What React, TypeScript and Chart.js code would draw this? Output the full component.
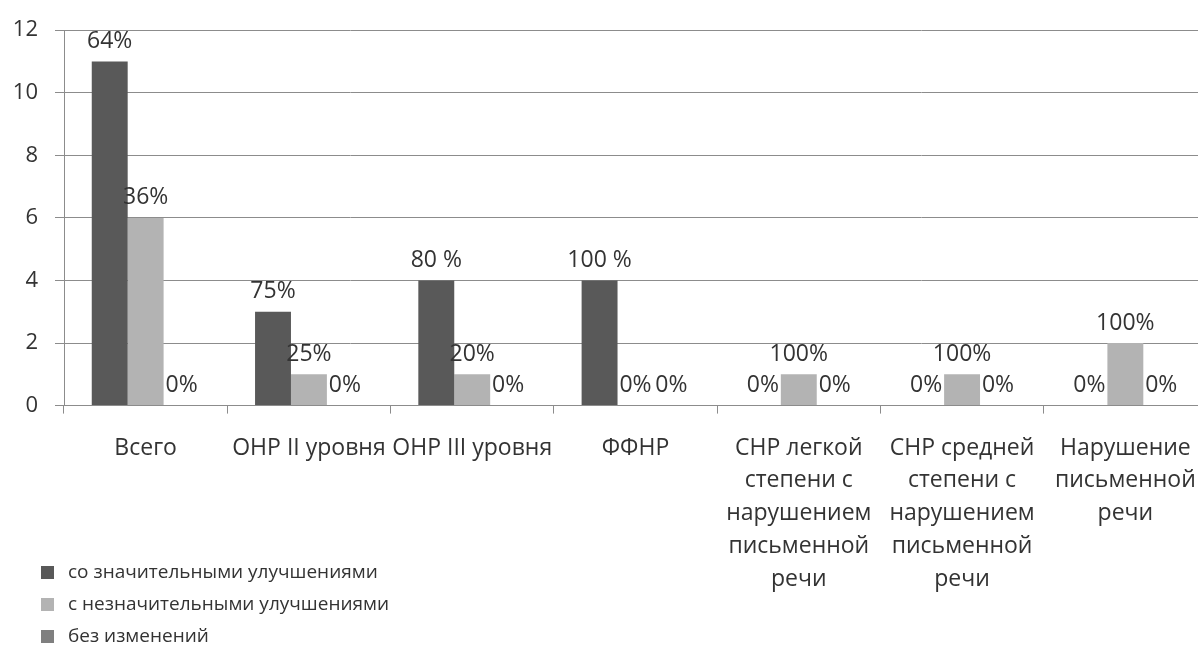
import React, { useEffect, useRef } from "react";
import { Chart, registerables } from "chart.js";

Chart.register(...registerables);

const categories: (string | string[])[] = [
  "Всего",
  "ОНР II уровня",
  "ОНР III уровня",
  "ФФНР",
  ["СНР легкой", "степени с", "нарушением", "письменной", "речи"],
  ["СНР средней", "степени с", "нарушением", "письменной", "речи"],
  ["Нарушение", "письменной", "речи"],
];

const seriesNames = [
  "со значительными улучшениями",
  "с незначительными улучшениями",
  "без изменений",
];

const significant = [11, 3, 4, 4, 0, 0, 0];
const minor = [6, 1, 1, 0, 1, 1, 2];
const noChange = [0, 0, 0, 0, 0, 0, 0];

const significantLabels = ["64%", "75%", "80 %", "100 %", "0%", "0%", "0%"];
const minorLabels = ["36%", "25%", "20%", "0%", "100%", "100%", "100%"];
const noChangeLabels = ["0%", "0%", "0%", "0%", "0%", "0%", "0%"];

const yTicks = [0, 2, 4, 6, 8, 10, 12];

const FONT = "'Open Sans', 'DejaVu Sans', sans-serif";
const TEXT = "#333333";

const dataLabelsPlugin = {
  id: "dataLabels",
  afterDatasetsDraw(chart: any) {
    const ctx = chart.ctx;
    const all = [significantLabels, minorLabels, noChangeLabels];
    ctx.save();
    ctx.font = `23px ${FONT}`;
    ctx.fillStyle = TEXT;
    ctx.textAlign = "center";
    ctx.textBaseline = "middle";
    chart.data.datasets.forEach((_ds: any, di: number) => {
      const meta = chart.getDatasetMeta(di);
      meta.data.forEach((bar: any, i: number) => {
        ctx.fillText(all[di][i], bar.x, bar.y - 20);
      });
    });
    ctx.restore();
  },
};

const legendPlugin = {
  id: "sideLegend",
  afterDraw(chart: any) {
    const ctx = chart.ctx;
    ctx.save();
    ctx.font = `19px ${FONT}`;
    ctx.textBaseline = "middle";
    ctx.textAlign = "left";
    chart.data.datasets.forEach((ds: any, i: number) => {
      const y = 572 + i * 32;
      ctx.fillStyle = ds.backgroundColor;
      ctx.fillRect(41, y - 6, 13, 13);
      ctx.fillStyle = TEXT;
      ctx.fillText(ds.label, 68, y + 1);
    });
    ctx.restore();
  },
};

export default function App() {
  const ref = useRef<HTMLCanvasElement>(null);
  useEffect(() => {
    if (!ref.current) return;
    const chart = new Chart(ref.current, {
      type: "bar",
      data: {
        labels: categories,
        datasets: [
          { label: seriesNames[0], data: significant, backgroundColor: "#595959" },
          { label: seriesNames[1], data: minor, backgroundColor: "#b3b3b3" },
          { label: seriesNames[2], data: noChange, backgroundColor: "#7f7f7f" },
        ],
      },
      options: {
        animation: false,
        responsive: false,
        maintainAspectRatio: false,
        layout: { padding: { top: 25, right: 0, left: 0, bottom: 0 } },
        datasets: { bar: { categoryPercentage: 0.66, barPercentage: 1 } },
        plugins: {
          legend: { display: false },
          tooltip: { enabled: false },
        },
        scales: {
          x: {
            grid: {
              offset: true,
              drawOnChartArea: false,
              drawTicks: true,
              tickLength: 8,
              color: "#8c8c8c",
            },
            border: { display: true, color: "#8c8c8c" },
            ticks: {
              font: { family: FONT, size: 23, lineHeight: 1.43 } as any,
              color: TEXT,
              padding: 18,
              maxRotation: 0,
              autoSkip: false,
            },
            afterFit: (scale: any) => {
              scale.height = 648 - 25 - 380.6;
              scale.paddingLeft = 0;
              scale.paddingRight = 0;
            },
          },
          y: {
            min: 0,
            max: 12,
            afterBuildTicks: (scale: any) => {
              scale.ticks = yTicks.map((v) => ({ value: v }));
            },
            grid: { color: "#8c8c8c", tickLength: 9 },
            border: { display: true, color: "#8c8c8c" },
            ticks: {
              font: { family: FONT, size: 22 },
              color: TEXT,
              padding: 17,
            },
            afterFit: (scale: any) => {
              scale.width = 64;
            },
          },
        },
      },
      plugins: [dataLabelsPlugin, legendPlugin],
    });
    return () => chart.destroy();
  }, []);
  return (
    <div
      style={{
        position: "fixed",
        left: 0,
        top: 0,
        width: 1207,
        height: 648,
        background: "#fff",
      }}
    >
      <canvas ref={ref} width={1207} height={648} />
    </div>
  );
}
